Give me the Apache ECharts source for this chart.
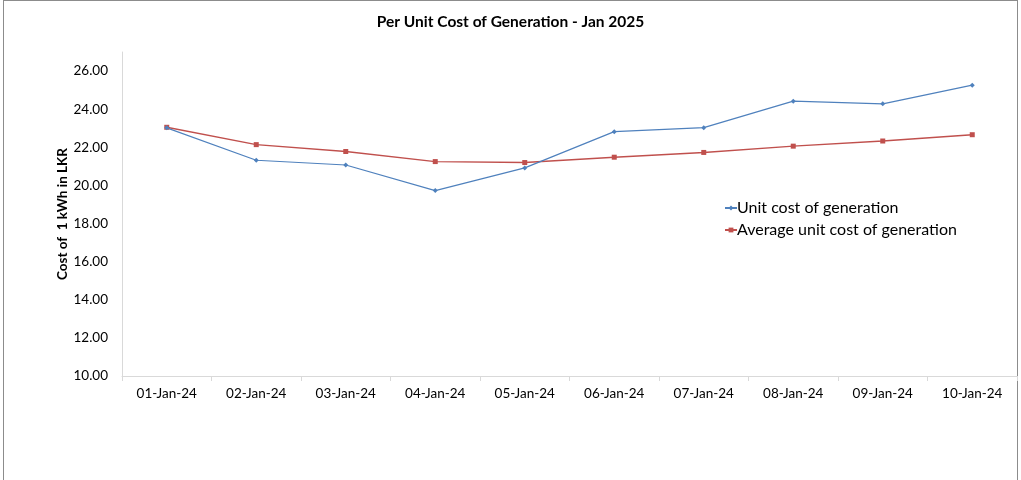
<!DOCTYPE html>
<html><head><meta charset="utf-8">
<script src="https://cdn.jsdelivr.net/npm/echarts@6/dist/echarts.min.js"></script>
<style>
html,body{margin:0;padding:0;background:#fff;}
#frame{position:absolute;left:3px;top:0;width:1015px;height:490px;border:1px solid #8c8c8c;box-sizing:border-box;}
#c{position:absolute;left:0;top:0;width:1021px;height:480px;}
</style></head>
<body>
<div id="frame"></div>
<div id="c"></div>
<script>
const categories = ['01-Jan-24','02-Jan-24','03-Jan-24','04-Jan-24','05-Jan-24','06-Jan-24','07-Jan-24','08-Jan-24','09-Jan-24','10-Jan-24'];
const unitCost = [23.02, 21.32, 21.07, 19.73, 20.92, 22.82, 23.03, 24.42, 24.28, 25.26];
const avgUnitCost = [23.05, 22.14, 21.78, 21.25, 21.20, 21.48, 21.73, 22.06, 22.33, 22.66];
const seriesNames = ['Unit cost of generation', 'Average unit cost of generation'];

const chart = echarts.init(document.getElementById('c'), null, {renderer:'canvas'});
const font = 'Lato, "Open Sans", sans-serif';
chart.setOption({
  animation:false,
  backgroundColor:'transparent',
  title:{text:'Per Unit Cost of Generation - Jan 2025', left:'center', top:9,
    textStyle:{fontFamily:font, fontSize:15.5, fontWeight:'bold', color:'#000'}},
  legend:{orient:'vertical', left:719, top:195, itemGap:6, itemWidth:12, itemHeight:6,
    textStyle:{fontFamily:font, fontSize:16, color:'#000', padding:[0,0,0,-5]},
    data:seriesNames},
  grid:{left:122, right:4, top:52, bottom:104},
  xAxis:{type:'category', data:categories, boundaryGap:true,
    axisLine:{lineStyle:{color:'#d9d9d9', width:1}},
    axisTick:{show:true, alignWithLabel:false, length:5, lineStyle:{color:'#d9d9d9'}},
    axisLabel:{fontFamily:font, fontSize:13.5, color:'#000', margin:11},
    splitLine:{show:false}},
  yAxis:{type:'value', min:10, max:27, interval:2,
    name:'Cost of  1 kWh in LKR', nameLocation:'middle', nameGap:52, nameRotate:90,
    nameMoveOverlap:false,
    nameTextStyle:{fontFamily:font, fontSize:13.5, fontWeight:'bold', color:'#000'},
    axisLine:{show:true, lineStyle:{color:'#d9d9d9', width:1}},
    axisTick:{show:false},
    axisLabel:{fontFamily:font, fontSize:13.5, color:'#000', margin:14, showMaxLabel:false,
      formatter:v=>v.toFixed(2)},
    splitLine:{show:false}},
  series:[
    {name:seriesNames[0], type:'line', data:unitCost, color:'#4f81bd',
     symbol:'diamond', symbolSize:5, lineStyle:{width:1.2, color:'#4f81bd'},
     itemStyle:{color:'#4f81bd'}, z:3},
    {name:seriesNames[1], type:'line', data:avgUnitCost, color:'#c0504d',
     symbol:'rect', symbolSize:5, lineStyle:{width:1.4, color:'#c0504d'},
     itemStyle:{color:'#c0504d'}, z:2}
  ]
});
</script>
</body></html>
